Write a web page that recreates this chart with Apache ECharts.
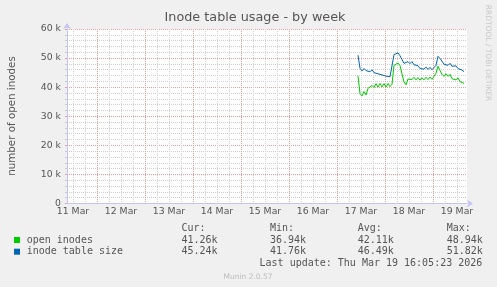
<!DOCTYPE html>
<html><head><meta charset="utf-8">
<script src="https://cdn.jsdelivr.net/npm/echarts@6/dist/echarts.min.js"></script>
<style>html,body{margin:0;padding:0;background:#F0F0F0}#c{width:497px;height:287px}</style>
</head><body><div id="c"></div>
<script>
// ---- data ----
const dayLabels = ['11 Mar','12 Mar','13 Mar','14 Mar','15 Mar','16 Mar','17 Mar','18 Mar','19 Mar'];
const labelHours = [12,36,60,84,108,132,156,180,204];      // noon of each day (hours since 11 Mar 00:00)
const midnightHours = [24,48,72,96,120,144,168,192];
const axisStartHour = 9, axisEndHour = 209;
const startHour = 154.5, stepHours = 1;
const openInodes = [43800,37800,37000,38500,37300,39600,39500,40600,39900,41200,40000,41300,40100,41200,40000,41300,40200,41000,
  47500,47200,48300,47400,48000,41800,40800,42800,43200,42600,43400,42500,43300,42400,43200,42500,43400,42600,43500,42700,43700,44800,
  47200,45800,44400,43700,44600,43700,44400,42900,43400,42500,43200,41900,42300,41300];
const tableSize = [51000,46500,45600,46400,45700,46200,45300,46000,45000,45400,44600,45100,44200,44700,43800,44400,43600,43900,
  51200,50700,51800,50800,51300,48200,48000,48800,48100,48800,47700,48200,47400,46400,47000,46200,46900,46100,46800,46000,46600,47500,
  50600,49900,49700,47900,48500,47500,48200,47200,46700,47300,46400,46900,45900,45300];
const seriesNames = ['open inodes','inode table size'];
const seriesColors = ['#00CC00','#0066B3'];
const statHeaders = ['Cur:','Min:','Avg:','Max:'];
const statsOpen = ['41.26k','36.94k','42.11k','48.94k'];
const statsTable = ['45.24k','41.76k','46.49k','51.82k'];
const lastUpdate = 'Last update: Thu Mar 19 16:05:23 2026';

// ---- chart ----
const minorHours = [];
for (let h = 12; h < axisEndHour; h += 6) if (h % 24 !== 0) minorHours.push(h);

const mono = 'DejaVu Sans Mono';
const sans = 'DejaVu Sans';
const majorColor = '#EB9A9A';
const minorColor = '#CFCFCF';
const axisColor = '#C4C4F4';
const statX = [181.5, 270, 357.7, 446.7];
const rowY = [240, 251.7];

const graphics = [];
graphics.push({type:'text', x:255, y:18, style:{text:'Inode table usage - by week', fontFamily:sans, fontSize:12.8, fill:'#555', align:'center', verticalAlign:'middle'}});
graphics.push({type:'text', x:12, y:116, rotation:Math.PI/2, style:{text:'number of open inodes', fontFamily:sans, fontSize:10.3, fill:'#555', align:'center', verticalAlign:'middle'}});
graphics.push({type:'text', x:488, y:53, rotation:-Math.PI/2, style:{text:'RRDTOOL / TOBI OETIKER', fontFamily:sans, fontSize:7.5, fill:'#C8C8C8', align:'center', verticalAlign:'middle'}});
statHeaders.forEach((t,i)=>graphics.push({type:'text', x:statX[i], y:228.5, style:{text:t, fontFamily:mono, fontSize:10, fill:'#555', align:'left', verticalAlign:'middle'}}));
[statsOpen, statsTable].forEach((row,r)=>{
  graphics.push({type:'rect', shape:{x:14, y:rowY[r]-3, width:6, height:6}, style:{fill:seriesColors[r]}});
  graphics.push({type:'text', x:26.7, y:rowY[r], style:{text:seriesNames[r], fontFamily:mono, fontSize:10, fill:'#555', align:'left', verticalAlign:'middle'}});
  row.forEach((t,i)=>graphics.push({type:'text', x:statX[i], y:rowY[r], style:{text:t, fontFamily:mono, fontSize:10, fill:'#555', align:'left', verticalAlign:'middle'}}));
});
graphics.push({type:'text', x:482.3, y:263.3, style:{text:lastUpdate, fontFamily:mono, fontSize:10, fill:'#555', align:'right', verticalAlign:'middle'}});
graphics.push({type:'text', x:248, y:277, style:{text:'Munin 2.0.57', fontFamily:sans, fontSize:7.5, fill:'#BBBBBB', align:'center', verticalAlign:'middle'}});

function gridAxis(values, color, lineType, z) {
  return {
    type:'value', min:axisStartHour, max:axisEndHour, position:'bottom', z:z,
    axisLine:{show:false}, axisTick:{show:false, customValues:values}, axisLabel:{show:false},
    splitLine:{show:true, lineStyle:{color:color, type:lineType, width:1}}
  };
}

const chart = echarts.init(document.getElementById('c'), null, {renderer:'canvas'});
chart.setOption({
  animation:false,
  backgroundColor:'#F0F0F0',
  grid:{left:67, right:30, top:29, bottom:83.5, show:true, backgroundColor:'#FFFFFF', borderWidth:0, containLabel:false, outerBoundsMode:'none'},
  xAxis:[{
    type:'value', min:axisStartHour, max:axisEndHour, position:'bottom', z:2,
    axisLine:{show:true, lineStyle:{color:axisColor, width:1}, symbol:['none','arrow'], symbolSize:[6,6], symbolOffset:[0,6]},
    axisTick:{show:false},
    axisLabel:{show:true, customValues:labelHours, formatter:v=>dayLabels[labelHours.indexOf(v)], color:'#555', fontFamily:sans, fontSize:9.3, margin:4},
    splitLine:{show:false}
  },
  gridAxis(minorHours, minorColor, [1,1], 0),
  gridAxis(midnightHours, majorColor, [1,1], 1)
  ],
  yAxis:{
    type:'value', min:0, max:60000, interval:10000,
    axisLine:{show:true, lineStyle:{color:axisColor, width:1}, symbol:['none','arrow'], symbolSize:[6,6], symbolOffset:[0,6]},
    axisTick:{show:true, length:2, lineStyle:{color:majorColor}},
    minorTick:{show:true, splitNumber:5, length:2, lineStyle:{color:'#C8C8C8'}},
    splitLine:{show:true, lineStyle:{color:majorColor, type:[1,1], width:1}},
    minorSplitLine:{show:true, lineStyle:{color:minorColor, type:[1,1], width:1}},
    axisLabel:{formatter:v=>v===0?'0':(v/1000)+' k', color:'#555', fontFamily:sans, fontSize:9.3, margin:6}
  },
  series:[
    {name:seriesNames[0], type:'line', xAxisIndex:0, z:3, showSymbol:false, symbol:'none', lineStyle:{color:seriesColors[0], width:1}, itemStyle:{color:seriesColors[0]},
     data:openInodes.map((v,i)=>[startHour+i*stepHours, v])},
    {name:seriesNames[1], type:'line', xAxisIndex:0, z:3, showSymbol:false, symbol:'none', lineStyle:{color:seriesColors[1], width:1}, itemStyle:{color:seriesColors[1]},
     data:tableSize.map((v,i)=>[startHour+i*stepHours, v])}
  ],
  graphic:graphics
});
</script></body></html>
